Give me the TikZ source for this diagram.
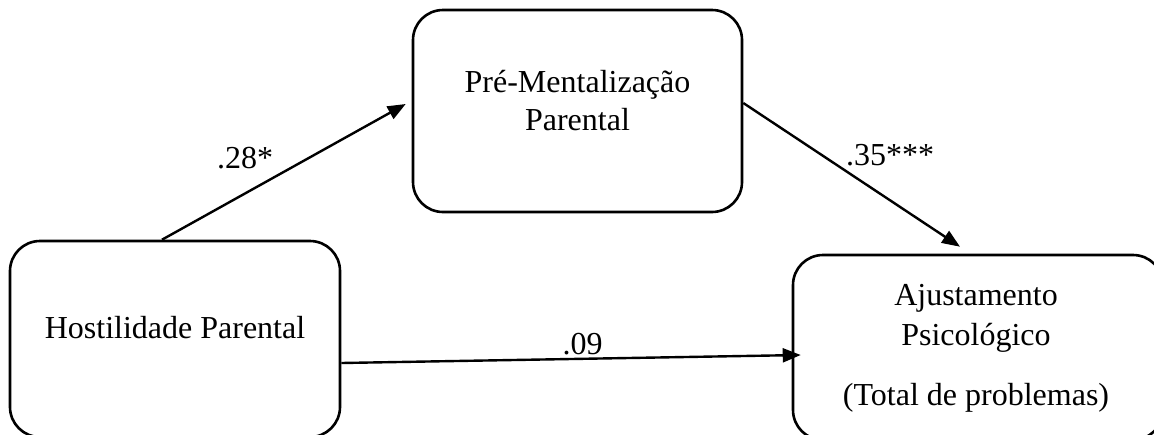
\documentclass[tikz,border=0pt]{standalone}
\usepackage{fontspec}
\setmainfont{Liberation Serif}
\usetikzlibrary{arrows.meta}
\begin{document}
\begin{tikzpicture}[x=0.5pt,y=-0.5pt,
  box/.style={draw=black,line width=1.3pt,rounded corners=15pt,inner sep=0pt},
  txt/.style={inner sep=0pt,anchor=base,font=\fontsize{16}{19}\selectfont},
  conn/.style={line width=1.2pt,-{Triangle[length=9pt,width=7pt]}}]
\clip (0,0) rectangle (1154,434);
% boxes
\node[box,minimum width=165pt,minimum height=98pt] (A) at (175,339) {};
\node[box,minimum width=164.5pt,minimum height=101pt] (B) at (577.5,111) {};
\node[box,minimum width=185pt,minimum height=92.5pt] (C) at (978,347.5) {};
% texts
\node[txt] (tA) at (175,338) {Hostilidade Parental};
\node[txt] (tB1) at (577.5,92) {Pré-Mentalização};
\node[txt] (tB2) at (577.5,130) {Parental};
\node[txt] (tC1) at (976,305) {Ajustamento};
\node[txt] (tC2) at (976,345) {Psicológico};
\node[txt] (tC3) at (976,405) {(Total de problemas)};
% connectors
\draw[conn] ([xshift=-6.5pt]A.north) -- ([shift={(-3pt,3.5pt)}]B.west);
\draw[conn] ([yshift=4pt]B.east) -- ([shift={(-9pt,3.5pt)}]C.north);
\draw[conn] ([yshift=-12pt]A.east) -- ([shift={(4.5pt,-3.75pt)}]C.west);
% labels
\node[txt] (l1) at (245,168) {.28*};
\node[txt] (l2) at (890,165) {.35***};
\node[txt] (l3) at (582.5,354) {.09};
\end{tikzpicture}
\end{document}
